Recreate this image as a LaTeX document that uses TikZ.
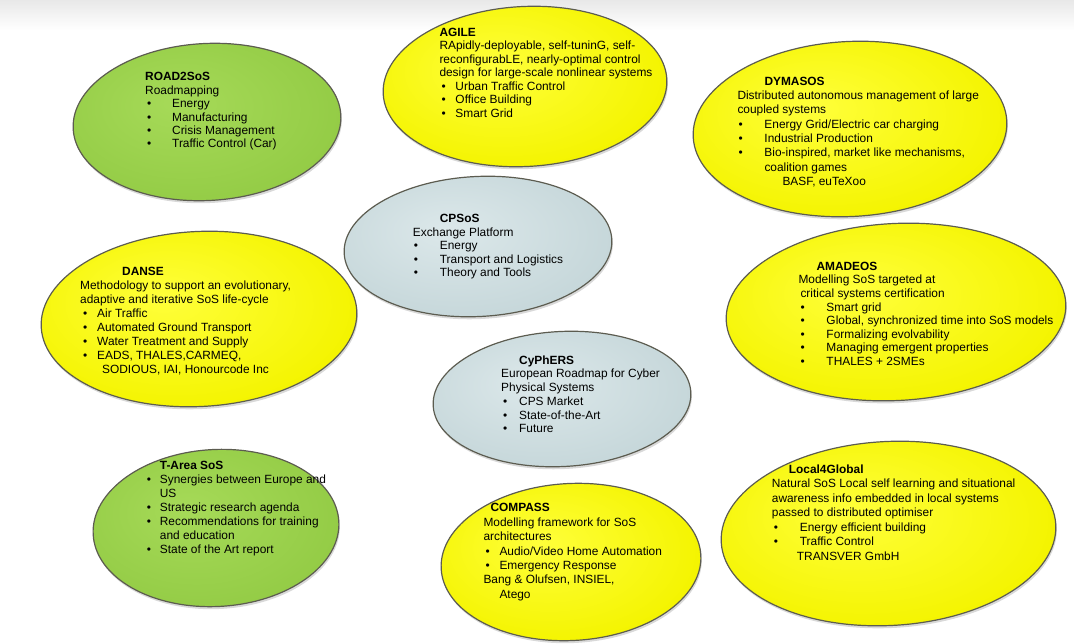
\documentclass[tikz,border=0pt]{standalone}
\usepackage{fontspec}
\setmainfont{Liberation Sans}
\usetikzlibrary{shapes.geometric,shadows}

\definecolor{yelA}{HTML}{FFFF3A}
\definecolor{yelB}{HTML}{F4F400}
\definecolor{yelC}{HTML}{E4E200}
\definecolor{yelD}{HTML}{A8A200}
\definecolor{grnA}{HTML}{A6DA58}
\definecolor{grnB}{HTML}{94CC46}
\definecolor{grnC}{HTML}{84BE38}
\definecolor{grnD}{HTML}{5E8E26}
\definecolor{gryA}{HTML}{DCE8EA}
\definecolor{gryB}{HTML}{C6D7DA}
\definecolor{gryC}{HTML}{B2C5C9}
\definecolor{gryD}{HTML}{879B9F}
\definecolor{rim}{HTML}{5C5C50}

\pgfdeclareradialshading{yelsh}{\pgfpoint{-6bp}{6bp}}{color(0bp)=(yelA); color(28bp)=(yelB); color(44bp)=(yelC); color(52bp)=(yelD); color(60bp)=(yelD)}
\pgfdeclareradialshading{grnsh}{\pgfpoint{-6bp}{6bp}}{color(0bp)=(grnA); color(28bp)=(grnB); color(44bp)=(grnC); color(52bp)=(grnD); color(60bp)=(grnD)}
\pgfdeclareradialshading{grysh}{\pgfpoint{-6bp}{6bp}}{color(0bp)=(gryA); color(28bp)=(gryB); color(44bp)=(gryC); color(52bp)=(gryD); color(60bp)=(gryD)}

\newcommand\tstrut{\rule{0pt}{10pt}}
\newcommand\bul[2]{\hspace*{#1pt}\makebox[0pt][l]{\textbullet}\hspace*{\dimexpr #2pt-#1pt\relax}}

\tikzset{
  oval/.style={ellipse, inner sep=0pt, draw=rim, line width=1.2pt, rotate=3,
    drop shadow={shadow xshift=1pt, shadow yshift=-2.5pt, opacity=0.3}},
  yel/.style={oval, shade, shading=yelsh},
  grn/.style={oval, shade, shading=grnsh},
  gry/.style={oval, shade, shading=grysh},
  txt/.style={anchor=north west, inner sep=0pt, align=left,
    font=\fontsize{11.9}{#1}\selectfont}
}

\begin{document}
\begin{tikzpicture}[x=1pt, y=-1pt]
\useasboundingbox (0,0) rectangle (1074,643);
\fill[top color=black!9, bottom color=white] (0,0) rectangle (1074,30);

% ellipses
\node[grn, minimum width=268pt, minimum height=157pt] (road) at (207,122) {};
\node[yel, minimum width=284pt, minimum height=160pt] (agile) at (525,86.5) {};
\node[yel, minimum width=314pt, minimum height=175pt] (dyma) at (850,129) {};
\node[gry, minimum width=268pt, minimum height=140pt] (cpsos) at (478,246.5) {};
\node[yel, minimum width=316pt, minimum height=175pt] (danse) at (199,319) {};
\node[yel, minimum width=340pt, minimum height=177pt] (amadeos) at (896,312) {};
\node[gry, minimum width=258pt, minimum height=135pt] (cyphers) at (562,399) {};
\node[grn, minimum width=246pt, minimum height=157pt] (tarea) at (216,528) {};
\node[yel, minimum width=260pt, minimum height=157pt] (compass) at (571,562) {};
\node[yel, minimum width=335pt, minimum height=184pt] (local) at (888.5,533.5) {};

% texts
\node[txt=13.4] (roadT) at (145,70.7) {\tstrut\textbf{ROAD2SoS}\\
Roadmapping\\
\bul{2}{27}Energy\\
\bul{2}{27}Manufacturing\\
\bul{2}{27}Crisis Management\\
\bul{2}{27}Traffic Control (Car)};

\node[txt=13.5] (agileT) at (439.3,26) {\tstrut\textbf{AGILE}\\
RApidly-deployable, self-tuninG, self-\\
reconfigurabLE, nearly-optimal control\\
design for large-scale nonlinear systems\\
\bul{2}{16}Urban Traffic Control\\
\bul{2}{16}Office Building\\
\bul{2}{16}Smart Grid};

\node[txt=14.3] (dymaT) at (737.3,75) {\tstrut\hspace*{27pt}\textbf{DYMASOS}\\
Distributed autonomous management of large\\
coupled systems\\
\bul{1}{27}Energy Grid/Electric car charging\\
\bul{1}{27}Industrial Production\\
\bul{1}{27}Bio-inspired, market like mechanisms,\\
\hspace*{27pt}coalition games\\
\hspace*{45pt}BASF, euTeXoo};

\node[txt=13.5] (cpsosT) at (412.7,212.7) {\tstrut\hspace*{27pt}\textbf{CPSoS}\\
Exchange Platform\\
\bul{1}{27}Energy\\
\bul{1}{27}Transport and Logistics\\
\bul{1}{27}Theory and Tools};

\node[txt=14.1] (danseT) at (80,265) {\tstrut\hspace*{42pt}\textbf{DANSE}\\
Methodology to support an evolutionary,\\
adaptive and iterative SoS life-cycle\\
\bul{3}{17}Air Traffic\\
\bul{3}{17}Automated Ground Transport\\
\bul{3}{17}Water Treatment and Supply\\
\bul{3}{17}EADS, THALES,CARMEQ,\\
\hspace*{22pt}SODIOUS, IAI, Honourcode Inc};

\node[txt=13.6] (amadeosT) at (798.3,260) {\tstrut\hspace*{18pt}\textbf{AMADEOS}\\
Modelling SoS targeted at\\
\hspace*{2pt}critical systems certification\\
\bul{2}{28}Smart grid\\
\bul{2}{28}Global, synchronized time into SoS models\\
\bul{2}{28}Formalizing evolvability\\
\bul{2}{28}Managing emergent properties\\
\bul{2}{28}THALES + 2SMEs};

\node[txt=13.7] (cyphersT) at (501,354) {\tstrut\hspace*{18pt}\textbf{CyPhERS}\\
European Roadmap for Cyber\\
Physical Systems\\
\bul{2}{18}CPS Market\\
\bul{2}{18}State-of-the-Art\\
\bul{2}{18}Future};

\node[txt=14.05] (tareaT) at (146.7,459) {\tstrut\hspace*{13pt}\textbf{T-Area SoS}\\
\bul{0}{13}Synergies between Europe and\\
\hspace*{13pt}US\\
\bul{0}{13}Strategic research agenda\\
\bul{0}{13}Recommendations for training\\
\hspace*{13pt}and education\\
\bul{0}{13}State of the Art report};

\node[txt=14.4] (compassT) at (483.3,501.7) {\tstrut\hspace*{7pt}\textbf{COMPASS}\\
Modelling framework for SoS\\
architectures\\
\bul{2}{16}Audio/Video Home Automation\\
\bul{2}{16}Emergency Response\\
Bang \& Olufsen, INSIEL,\\
\hspace*{16pt}Atego};

\node[txt=14.45] (localT) at (771.7,463.3) {\tstrut\hspace*{17pt}\textbf{Local4Global}\\
Natural SoS Local self learning and situational\\
awareness info embedded in local systems\\
passed to distributed optimiser\\
\bul{2}{28}Energy efficient building\\
\bul{2}{28}Traffic Control\\
\hspace*{25pt}TRANSVER GmbH};
\end{tikzpicture}
\end{document}
